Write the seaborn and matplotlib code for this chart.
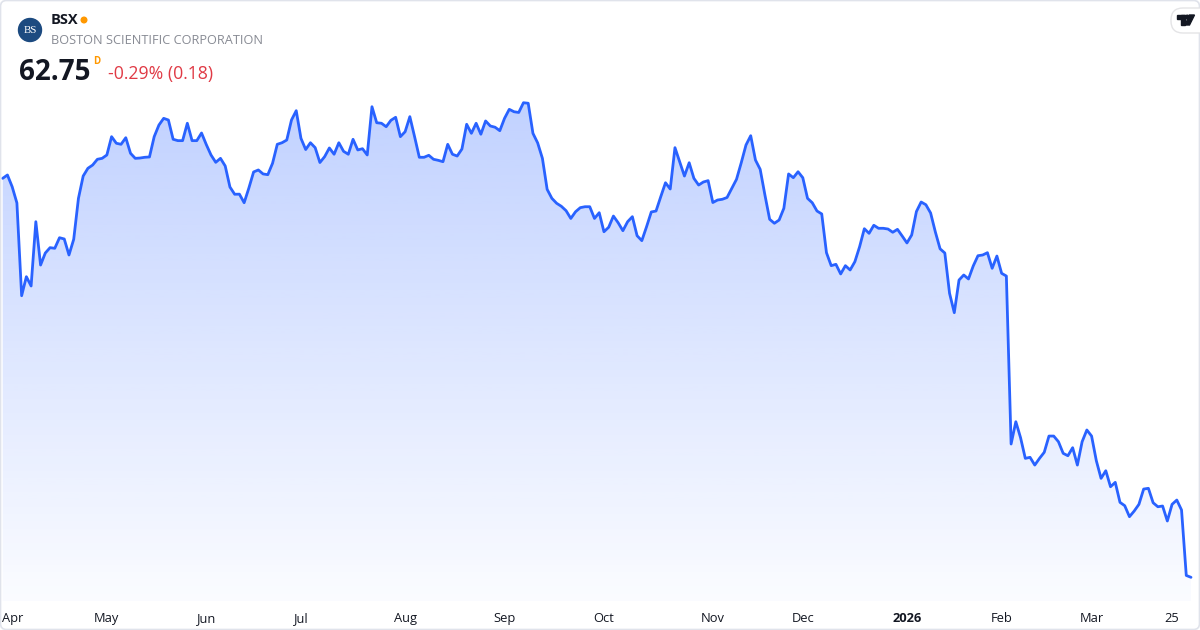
import numpy as np
import pandas as pd
import matplotlib
matplotlib.use("Agg")
import matplotlib.pyplot as plt
import seaborn as sns
from matplotlib.patches import Circle, FancyBboxPatch, Polygon, Rectangle
from matplotlib.transforms import ScaledTranslation

# ---------------- data ----------------
ticker = "BSX"
company = "BOSTON SCIENTIFIC CORPORATION"
last_price = "62.75"
change_text = "-0.29% (0.18)"
interval = "D"

market_holidays = ["2025-04-18", "2025-05-26", "2025-06-19", "2025-07-04", "2025-09-01",
                   "2025-11-27", "2025-12-25", "2026-01-01", "2026-01-19", "2026-02-16"]

closes = [
    100.85, 101.17, 100.05, 98.50, 89.64, 91.46, 90.57, 96.71, 92.57, 93.72,
    94.23, 94.17, 95.18, 95.06, 93.53, 95.03, 98.94, 101.07, 101.81, 102.12,
    102.67, 102.76, 103.08, 104.83, 104.20, 104.10, 104.73, 103.24, 102.76, 102.79,
    102.86, 102.89, 104.83, 105.94, 106.58, 106.42, 104.58, 104.45, 104.45, 106.11,
    104.45, 104.45, 105.18, 104.08, 103.08, 102.38, 102.76, 102.03, 100.02, 99.33,
    99.34, 98.52, 99.93, 101.46, 101.65, 101.27, 101.20, 102.29, 104.10, 104.25,
    104.51, 106.42, 107.31, 104.67, 103.60, 104.25, 103.78, 102.36, 102.92, 103.75,
    103.15, 104.25, 103.43, 103.15, 104.58, 103.56, 103.68, 103.08, 107.69, 106.16,
    106.11, 105.78, 106.39, 106.68, 104.83, 105.30, 106.74, 104.83, 102.86, 102.86,
    103.05, 102.67, 102.57, 102.44, 104.10, 103.15, 102.98, 103.65, 106.01, 105.15,
    106.11, 105.06, 106.33, 105.85, 105.73, 105.40, 106.58, 107.44, 107.21, 107.14,
    108.07, 108.02, 105.15, 104.23, 102.76, 99.80, 98.94, 98.47, 98.18, 97.76,
    97.02, 97.66, 98.05, 98.14, 98.14, 97.02, 97.57, 95.75, 96.18, 97.25,
    96.61, 95.85, 96.71, 97.19, 95.37, 94.90, 96.23, 97.64, 97.73, 99.10,
    100.43, 99.83, 103.78, 102.44, 101.07, 102.34, 100.85, 100.21, 100.50, 100.63,
    98.54, 98.78, 98.85, 99.02, 99.90, 100.76, 102.34, 104.03, 104.92, 102.60,
    101.71, 99.26, 96.94, 96.56, 96.87, 97.99, 101.27, 100.91, 101.48, 100.91,
    98.94, 98.52, 97.73, 97.45, 93.75, 92.51, 92.64, 91.72, 92.51, 92.10,
    92.89, 94.32, 96.04, 95.60, 96.37, 96.08, 96.08, 96.01, 95.70, 95.98,
    95.34, 94.68, 95.44, 97.68, 98.59, 98.33, 97.54, 95.73, 94.12, 93.72,
    89.87, 88.02, 91.14, 91.62, 91.24, 92.48, 93.46, 93.53, 93.75, 92.26,
    93.43, 91.78, 91.52, 75.48, 77.61, 76.08, 74.11, 74.21, 73.47, 74.11,
    74.69, 76.24, 76.24, 75.70, 74.59, 74.36, 75.13, 73.47, 75.70, 76.82,
    76.24, 73.89, 72.20, 72.93, 71.40, 71.82, 69.91, 69.59, 68.54, 69.08,
    69.72, 71.18, 71.25, 69.87, 69.49, 69.56, 68.13, 69.72, 70.13, 69.18,
    62.93, 62.75,
]

dates = pd.bdate_range("2025-03-31", "2026-03-31", freq="C", holidays=market_holidays)
df = pd.DataFrame({"date": dates, "close": closes})
df["idx"] = np.arange(len(df))

# tick positions: first trading day of each month, plus a day label
month_first = df.groupby([df.date.dt.year, df.date.dt.month])["idx"].min().values
tick_idx, tick_lab = [], []
for i in month_first:
    d = df.date.iloc[i]
    if d < pd.Timestamp("2025-04-01"):
        continue
    tick_idx.append(i)
    tick_lab.append(str(d.year) if d.month == 1 else d.strftime("%b"))
day_mark = df.index[df.date == pd.Timestamp("2026-03-25")][0]
tick_idx.append(day_mark)
tick_lab.append("25")

# ---------------- style ----------------
sns.set_theme(style="white")
plt.rcParams["font.family"] = ["Open Sans", "DejaVu Sans"]

W, H = 1200, 630
fig = plt.figure(figsize=(12, 6.3), dpi=100)
fig.patch.set_facecolor("white")
ax = fig.add_axes([0, 29 / H, 1, 601 / H])

LINE = "#2962ff"
x0, x1 = -0.57, 252.9
y0, y1 = 60.49, 117.88
ax.set_xlim(x0, x1)
ax.set_ylim(y0, y1)

# gradient area fill
ymax = max(closes)
grad = np.zeros((256, 1, 4))
grad[..., 0] = 41 / 255
grad[..., 1] = 98 / 255
grad[..., 2] = 1.0
grad[:, 0, 3] = np.linspace(0.29, 0.02, 256)
im = ax.imshow(grad, aspect="auto", extent=[x0, x1, y0, ymax], origin="upper", zorder=1,
               interpolation="bilinear")
verts = [(df.idx.iloc[0], y0)] + list(zip(df.idx, df.close)) + [(df.idx.iloc[-1], y0)]
clip = Polygon(verts, closed=True, facecolor="none", edgecolor="none", transform=ax.transData)
ax.add_patch(clip)
im.set_clip_path(clip)
ax.set_xlim(x0, x1)
ax.set_ylim(y0, y1)

sns.lineplot(data=df, x="idx", y="close", ax=ax, color=LINE, linewidth=2, zorder=3)

ax.set_xticks(tick_idx)
ax.set_xticklabels(tick_lab)
ax.tick_params(axis="x", length=0, labelsize=9.3, pad=8, colors="#131722")
labels = ax.get_xticklabels()
for t in labels:
    if t.get_text().isdigit() and len(t.get_text()) == 4:
        t.set_fontweight("bold")
# first label kept inside the frame, as in the reference
labels[0].set_horizontalalignment("left")
labels[0].set_transform(labels[0].get_transform() +
                        ScaledTranslation(-5.4 / 100, 0, fig.dpi_scale_trans))
ax.set_yticks([])
ax.set_xlabel("")
ax.set_ylabel("")
for s in ax.spines.values():
    s.set_visible(False)
ax.set_facecolor("none")

# ---------------- header overlay ----------------
ov = fig.add_axes([0, 0, 1, 1], zorder=5)
ov.set_xlim(0, W)
ov.set_ylim(H, 0)
ov.axis("off")
ov.patch.set_alpha(0)

ov.add_patch(FancyBboxPatch((0.5, 0.5), W - 1, H - 1, boxstyle="round,pad=0,rounding_size=6",
                            fc="none", ec="#e0e3eb", lw=1.2))
ov.add_patch(Circle((30, 30), 11.5, color="#1c4a80"))
ov.text(30, 30.5, "BS", family=["Liberation Serif", "DejaVu Serif"], fontsize=7.8, color="white",
        ha="center", va="center")
ov.text(51, 20.5, ticker, fontsize=10.5, fontweight="bold", color="#131722", va="center")
ov.add_patch(Circle((84, 20), 2.8, color="#ff9800"))
ov.text(51, 41, company, fontsize=9.2, color="#888b94", va="center")
ov.text(18.5, 73, last_price, fontsize=20, fontweight="bold", color="#131722", va="center")
ov.text(93.5, 61.5, interval, fontsize=7, fontweight="bold", color="#ff9800", va="center")
ov.text(107.5, 74, change_text, fontsize=12.7, color="#e03a45", va="center")

# TradingView badge
ov.add_patch(FancyBboxPatch((1171, 8), 45, 25, boxstyle="round,pad=0,rounding_size=12",
                            fc="white", ec="#e4e4e6", lw=1.0))
ov.add_patch(Rectangle((1177, 15), 8, 3.5, color="#131722"))
ov.add_patch(Rectangle((1181, 15), 3.5, 10, color="#131722"))
ov.add_patch(Circle((1187.3, 17), 1.8, color="#131722"))
ov.add_patch(Polygon([(1189.5, 15), (1194.5, 15), (1189.5, 25), (1185, 25)], closed=True,
                     color="#131722"))

fig.savefig("out.png", dpi=100, facecolor="white")
